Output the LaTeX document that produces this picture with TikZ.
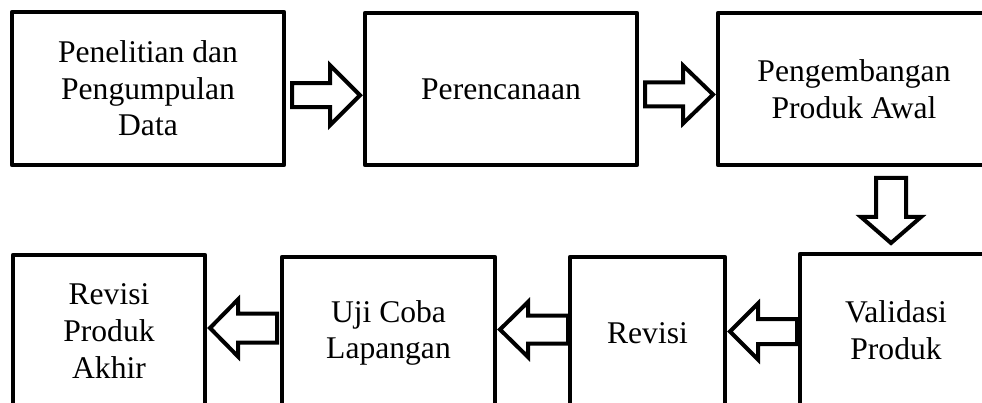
\documentclass[tikz,border=0pt]{standalone}
\usepackage{fontspec}
\setmainfont{Liberation Serif}
\usetikzlibrary{calc}
\tikzset{
  stepbox/.style={draw, line width=4.5pt, line join=round, inner sep=0pt, outer sep=0pt,
    align=center, font=\fontsize{31.6}{36.6}\selectfont},
  barrow/.style={draw, fill=white, line width=4pt, line join=miter},
  % block arrow pointing along +x: half length, shaft half width, head half width, head length
  pics/blockarrow/.style n args={4}{code={
    \draw[barrow] (-#1,-#2) -- ({#1-#4},-#2) -- ({#1-#4},-#3) -- (#1,0)
      -- ({#1-#4},#3) -- ({#1-#4},#2) -- (-#1,#2) -- cycle;
  }}
}
\begin{document}
\begin{tikzpicture}[x=1pt,y=-1pt]
\useasboundingbox (0,0) rectangle (982,403);
\clip (0,0) rectangle (982,403);

% top row
\node[stepbox, minimum width=272pt, minimum height=153pt] (b1) at (148,88.5) {Penelitian dan\\Pengumpulan\\Data};
\node[stepbox, minimum width=272pt, minimum height=152pt] (b2) at (501,89) {Perencanaan};
\node[stepbox, minimum width=272pt, minimum height=152pt] (b3) at (854,89) {Pengembangan\\Produk Awal};

% bottom row
\node[stepbox, minimum width=192pt, minimum height=152pt] (b4) at (109,331) {Revisi\\Produk\\Akhir};
\node[stepbox, minimum width=213pt, minimum height=152pt] (b5) at (388.5,333) {Uji Coba\\Lapangan};
\node[stepbox, minimum width=155pt, minimum height=152pt] (b6) at (647.5,333) {Revisi};
\node[stepbox, minimum width=192pt, minimum height=152pt] (b7) at (896,330) {Validasi\\Produk};

% arrow positions
\coordinate (a12) at ($(b1.east)!0.5!(b2.west)+(1.5,6.5)$);
\coordinate (a23) at ($(b2.east)!0.5!(b3.west)+(1.5,5.5)$);
\coordinate (a37) at ($(b7.north |- b3.south)!0.5!(b7.north)+(-5,1)$);
\coordinate (a76) at ($(b7.west)!0.5!(b6.east)+(1,0)$);
\coordinate (a65) at ($(b6.west)!0.5!(b5.east)+(1.5,-3.5)$);
\coordinate (a54) at ($(b5.west)!0.5!(b4.east)+(0,-4)$);

% block arrows
\pic at (a12) {blockarrow={34}{12}{30}{30}};
\pic at (a23) {blockarrow={34}{12}{29}{30}};
\pic[rotate=-90] at (a37) {blockarrow={32.5}{15}{30}{26}};
\pic[rotate=180] at (a76) {blockarrow={33.5}{12.5}{28}{28}};
\pic[rotate=180] at (a65) {blockarrow={34}{14}{27.5}{28}};
\pic[rotate=180] at (a54) {blockarrow={33.5}{14.5}{28.5}{28}};
\end{tikzpicture}
\end{document}
